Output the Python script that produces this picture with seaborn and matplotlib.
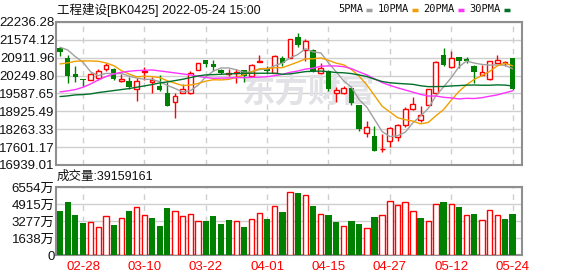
import matplotlib
matplotlib.use('Agg')
import matplotlib.pyplot as plt
import seaborn as sns
import pandas as pd
from matplotlib.lines import Line2D

# ---------------- data ----------------
dates = ['02-23', '02-24', '02-25', '02-28',
         '03-01', '03-02', '03-03', '03-04', '03-07', '03-08', '03-09', '03-10', '03-11',
         '03-14', '03-15', '03-16', '03-17', '03-18', '03-21', '03-22', '03-23', '03-24',
         '03-25', '03-28', '03-29', '03-30', '03-31',
         '04-01', '04-06', '04-07', '04-08', '04-11', '04-12', '04-13', '04-14', '04-15',
         '04-18', '04-19', '04-20', '04-21', '04-22', '04-25', '04-26', '04-27', '04-28', '04-29',
         '05-05', '05-06', '05-09', '05-10', '05-11', '05-12', '05-13', '05-16', '05-17',
         '05-18', '05-19', '05-20', '05-23', '05-24']

opens = [21262, 20917, 20325, 20108, 20091, 20165, 20497, 20510, 20054, 20066,
         19770, 20399, 20029, 19881, 19622, 19289, 19610, 19597, 20461, 20818,
         20670, 20448, 20320, 20340, 20448, 20239, 20756, 20480, 20350, 20892,
         20917, 21694, 21200, 21200, 20362, 20436, 19597, 19622, 19782, 19154,
         18142, 18019, 17520, 17810, 17994, 18414, 19006, 18611, 19166, 19597,
         21028, 20572, 20929, 20840, 20621, 20288, 20115, 20732, 20707, 20892]
highs = [21324, 21028, 20621, 20128, 20330, 20497, 20707, 20535, 20325, 20189,
         20180, 20584, 20189, 20288, 20004, 19597, 19943, 20411, 20730, 20843,
         20830, 20497, 20485, 20497, 20470, 20695, 21028, 20608, 21000, 20991,
         21610, 21817, 21620, 21220, 20719, 20450, 19844, 19870, 19800, 19170,
         18574, 18401, 18081, 18340, 18450, 19092, 19474, 19129, 19760, 20780,
         21262, 21151, 20955, 20954, 20630, 20645, 20810, 21003, 20780, 20900]
lows = [20966, 19967, 20029, 19856, 20080, 20103, 20436, 20078, 20005, 19770,
        19314, 20091, 19597, 19696, 19110, 18685, 19590, 19580, 20450, 20572,
        20424, 20300, 20250, 19990, 20005, 20230, 20740, 20362, 20330, 20621,
        20890, 21298, 20780, 20380, 20320, 19684, 19277, 19560, 19154, 18204,
        17958, 17450, 17427, 17588, 17810, 18360, 18990, 18550, 19150, 19560,
        20610, 20550, 20547, 20732, 19992, 20270, 20090, 20700, 20608, 19730]
closes = [21114, 20226, 20200, 20090, 20313, 20411, 20658, 20128, 20140, 19819,
          20066, 20424, 20103, 19708, 19129, 19511, 19770, 20337, 20719, 20695,
          20572, 20350, 20335, 20370, 20226, 20633, 20806, 20430, 20991, 20732,
          21595, 21397, 21521, 20399, 20547, 19770, 19721, 19807, 19252, 18266,
          18364, 17464, 17540, 18327, 18414, 19006, 19215, 18783, 19740, 20768,
          20645, 20917, 20794, 20830, 20387, 20400, 20781, 20830, 20769, 19745]

# volume in 万
volumes = [4220, 5083, 3836, 3069, 3133, 2653, 3805, 2877, 3613, 4220,
           4668, 3900, 3549, 2781, 4508, 4284, 3805, 3996, 3325, 3261,
           3741, 2973, 3357, 3325, 2686, 3517, 4092, 3453, 4764, 4124,
           6090, 5946, 5819, 4700, 3996, 3836, 3165, 2781, 3261, 2973,
           2558, 3645, 3900, 5243, 4860, 5147, 4284, 3549, 3229, 4955,
           5083, 4955, 4604, 3900, 3996, 3421, 4380, 3900, 3453, 3916]
# 1 = red (up vs previous close), 0 = green
vol_up = [0, 0, 0, 0, 1, 1, 1, 0, 1, 0, 1, 1, 0, 0, 0, 1, 1, 1, 1, 0,
          0, 0, 0, 1, 0, 1, 1, 0, 1, 0, 1, 0, 1, 0, 1, 0, 0, 1, 0, 0,
          1, 0, 1, 1, 1, 1, 1, 0, 1, 1, 0, 1, 0, 1, 0, 1, 1, 1, 0, 0]

ma5 = [21299, 21200, 20954, 20744, 20389, 20248, 20334, 20320, 20330, 20231,
       20162, 20115, 20110, 20024, 19886, 19775, 19644, 19691, 19893, 20206,
       20419, 20535, 20534, 20464, 20371, 20383, 20474, 20493, 20617, 20718,
       20911, 21029, 21247, 21129, 21092, 20727, 20392, 20049, 19819, 19363,
       19082, 18631, 18177, 17992, 18022, 18150, 18500, 18749, 19032, 19502,
       19830, 20171, 20573, 20791, 20715, 20666, 20638, 20646, 20633, 20505]
ma10 = [20682, 20720, 20781, 20793, 20793, 20781, 20720, 20621, 20436, 20310,
        20205, 20225, 20215, 20177, 20059, 19969, 19880, 19901, 19959, 20046,
        20097, 20090, 20113, 20179, 20289, 20401, 20505, 20514, 20541, 20545,
        20647, 20752, 20870, 20873, 20905, 20819, 20711, 20648, 20474, 20228,
        19905, 19512, 19113, 18906, 18693, 18616, 18566, 18463, 18512, 18762,
        18990, 19336, 19661, 19912, 20109, 20248, 20405, 20610, 20712, 20610]
ma20 = [19647, 19684, 19733, 19819, 19943, 20091, 20214, 20313, 20374, 20411,
        20436, 20448, 20460, 20424, 20387, 20350, 20313, 20276, 20226, 20178,
        20151, 20158, 20164, 20178, 20174, 20185, 20193, 20208, 20250, 20296,
        20372, 20421, 20492, 20526, 20597, 20610, 20608, 20581, 20508, 20387,
        20276, 20132, 19992, 19890, 19799, 19718, 19639, 19556, 19493, 19495,
        19448, 19424, 19387, 19409, 19401, 19432, 19486, 19537, 19612, 19686]
ma30 = [19474, 19499, 19536, 19548, 19573, 19622, 19659, 19696, 19733, 19770,
        19820, 19869, 19918, 19980, 20017, 20066, 20115, 20177, 20239, 20276,
        20288, 20300, 20313, 20325, 20338, 20338, 20338, 20338, 20338, 20300,
        20316, 20356, 20399, 20410, 20418, 20396, 20365, 20354, 20325, 20273,
        20216, 20118, 20032, 19986, 19962, 19945, 19927, 19875, 19842, 19845,
        19847, 19867, 19881, 19897, 19902, 19894, 19894, 19907, 19899, 19867]

price_tick_labels = ['22236.28', '21574.12', '20911.96', '20249.80', '19587.65',
                     '18925.49', '18263.33', '17601.17', '16939.01']
vol_tick_values = [6554, 4915, 3277, 1638, 0]
vol_tick_labels = ['6554万', '4915万', '3277万', '1638万', '0']
date_ticks = ['02-28', '03-10', '03-22', '04-01', '04-15', '04-27', '05-12', '05-24']

title_text = '工程建设[BK0425] 2022-05-24 15:00'
vol_text = '成交量:39159161'
watermark = '东方财富'
ma_names = ['5PMA', '10PMA', '20PMA', '30PMA']
ma_colors = ['#a0a0a0', '#f0a000', '#ff33ff', '#00702a']

# ---------------- style ----------------
sns.set_style('white')
FONT = ['Liberation Sans', 'Noto Sans CJK SC', 'DejaVu Sans']
plt.rcParams['font.family'] = FONT

RED = '#ff0000'
GREEN = '#008000'
GRID = '#cfcfcf'
SPINE = '#8f8f8f'

W, H = 578, 276
fig = plt.figure(figsize=(W / 100, H / 100), dpi=100)
fig.patch.set_facecolor('white')

L, R = 56, 522
ax = fig.add_axes([L / W, 1 - 165 / H, (R - L) / W, (165 - 22) / H])
axv = fig.add_axes([L / W, 1 - 255 / H, (R - L) / W, (255 - 187) / H])

n = len(closes)
xs = list(range(n))
df = pd.DataFrame({'x': xs, 'date': dates, 'open': opens, 'high': highs,
                   'low': lows, 'close': closes, 'vol': volumes, 'vup': vol_up,
                   'MA5': ma5, 'MA10': ma10, 'MA20': ma20, 'MA30': ma30})

xmin, xmax = -0.52, n - 1 + 1.23
date_pos = [dates.index(d) for d in date_ticks]

# ---------------- price panel ----------------
ptick_vals = [float(s) for s in price_tick_labels]
ax.set_xlim(xmin, xmax)
ax.set_ylim(min(ptick_vals), max(ptick_vals))
ax.set_yticks(ptick_vals)
ax.set_yticklabels(price_tick_labels)
for v in ptick_vals:
    ax.axhline(v, color=GRID, lw=1.0, zorder=0)
for p in date_pos:
    ax.axvline(p, color=GRID, lw=1.0, ls=(0, (4, 4)), zorder=0)

# watermark
ax.text((308 - L) / (R - L), 1 - (93 - 22) / 143, watermark, transform=ax.transAxes,
        ha='center', va='center', fontsize=24, color='#e2e2e6', fontweight='bold',
        style='italic', family=['Noto Sans CJK SC'], zorder=0.5)

bw = 0.62
for i, row in df.iterrows():
    col = RED if row['close'] >= row['open'] else GREEN
    ax.vlines(row['x'], row['low'], row['high'], color=col, lw=1.0, zorder=2)
    body = row['close'] - row['open']
    if abs(body) < 15:
        ax.hlines(row['open'], row['x'] - bw / 2, row['x'] + bw / 2, color=col, lw=1.5, zorder=3)
    elif col == RED:
        ax.bar(row['x'], body, bottom=row['open'], width=bw, facecolor='white',
               edgecolor=RED, lw=1.0, zorder=3)
    else:
        ax.bar(row['x'], body, bottom=row['open'], width=bw + 0.1, facecolor=GREEN,
               edgecolor=GREEN, lw=0.0, zorder=3)

for name, c in zip(['MA5', 'MA10', 'MA20', 'MA30'], ma_colors):
    sns.lineplot(data=df, x='x', y=name, ax=ax, color=c, lw=1.0, zorder=4, legend=False)

ax.set_xlabel('')
ax.set_ylabel('')
ax.set_xticks([])
ax.tick_params(axis='y', length=0, pad=1, labelsize=9.5, labelcolor='#111111')

# ---------------- volume panel ----------------
axv.set_xlim(xmin, xmax)
axv.set_ylim(0, max(vol_tick_values))
axv.set_yticks(vol_tick_values)
axv.set_yticklabels(vol_tick_labels)
for v in vol_tick_values:
    axv.axhline(v, color=GRID, lw=1.0, zorder=0)
for p in date_pos:
    axv.axvline(p, color=GRID, lw=1.0, ls=(0, (4, 4)), zorder=0)

vw = 0.7
for i, row in df.iterrows():
    if row['vup'] == 1:
        axv.bar(row['x'], row['vol'], width=vw, facecolor='white', edgecolor=RED,
                lw=1.0, zorder=3)
    else:
        axv.bar(row['x'], row['vol'], width=vw + 0.1, facecolor=GREEN, edgecolor=GREEN,
                lw=0.0, zorder=3)

axv.set_xticks(date_pos)
axv.set_xticklabels(date_ticks)
axv.tick_params(axis='x', length=0, pad=4, labelsize=9.5, labelcolor=RED)
axv.tick_params(axis='y', length=0, pad=1, labelsize=9.5, labelcolor='#111111')
axv.set_xlabel('')
axv.set_ylabel('')

for a in (ax, axv):
    for s in a.spines.values():
        s.set_color(SPINE)
        s.set_linewidth(1.5)
        s.set_visible(True)

# ---------------- header texts ----------------
fig.text(57 / W, 1 - 10 / H, title_text, ha='left', va='center', fontsize=9, color='#111111')
fig.text(57 / W, 1 - 177 / H, vol_text, ha='left', va='center', fontsize=9, color='#111111')

# legend: text right edges and colour dashes (pixel positions)
text_right = [363, 409, 455, 501]
for name, c, xr in zip(ma_names, ma_colors, text_right):
    fig.text(xr / W, 1 - 9.5 / H, name, ha='right', va='center', fontsize=7.5,
             color='#111111', family=['DejaVu Sans Mono'])
    fig.add_artist(Line2D([(xr + 3) / W, (xr + 9) / W], [1 - 9.5 / H, 1 - 9.5 / H],
                          transform=fig.transFigure, color=c, lw=2.5, solid_capstyle='butt'))

fig.savefig('out.png', dpi=100)
